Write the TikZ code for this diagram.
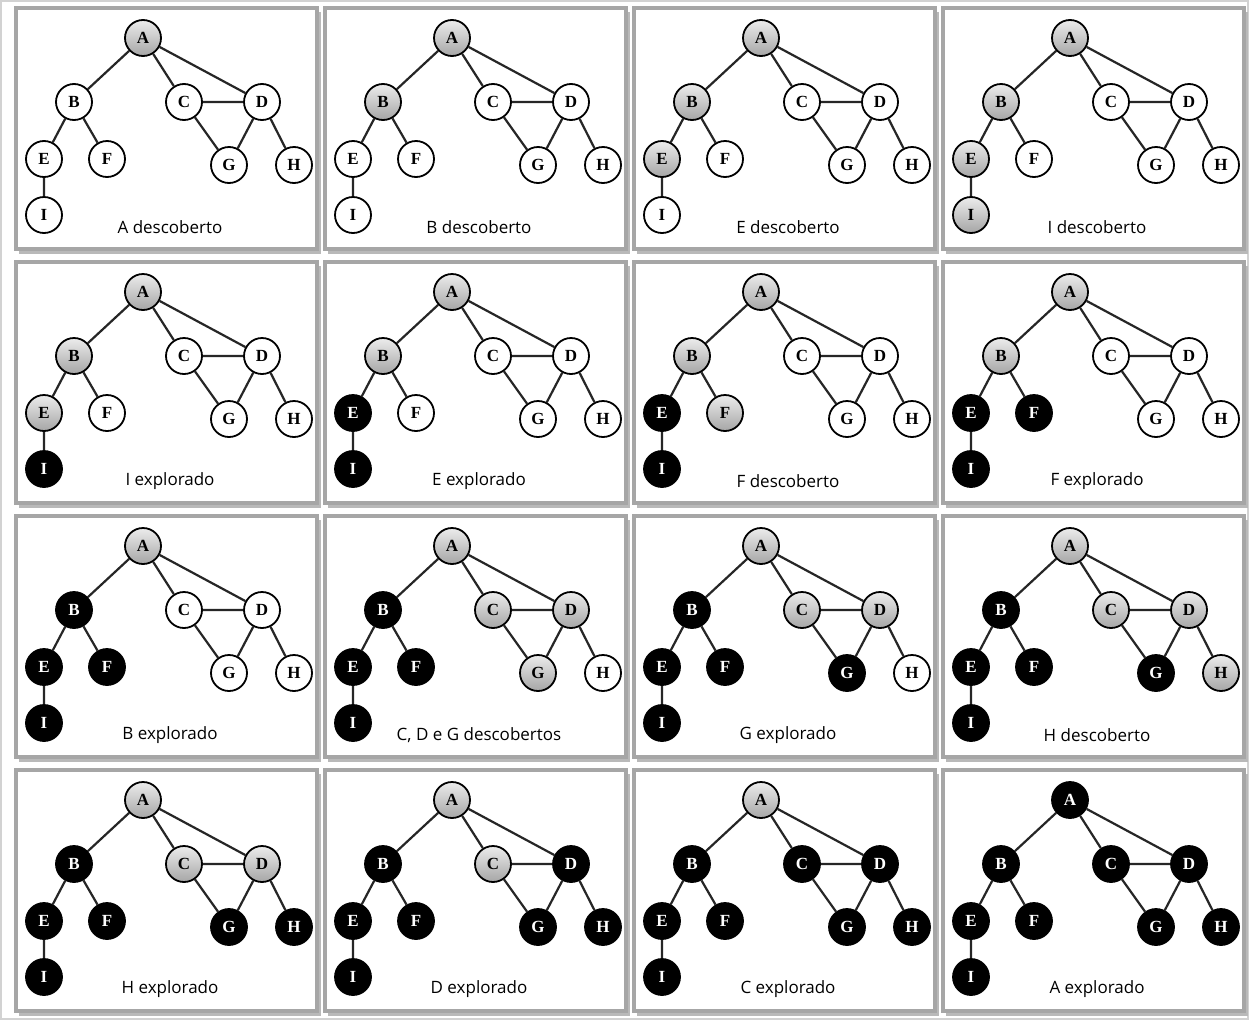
\documentclass[tikz,border=0pt]{standalone}
\usepackage{fontspec}
\setmainfont{Liberation Serif}
\newfontfamily\legfont{Open Sans}
\usetikzlibrary{calc}

\tikzset{
  vert/.style={circle, draw=black, line width=1.8pt, minimum size=36pt, inner sep=0pt,
    font=\fontsize{17}{17}\selectfont\bfseries, fill=white},
  novo/.style={vert},
  visto/.style={vert, top color=gray!15, bottom color=gray!70},
  feito/.style={vert, fill=black, text=white},
  aresta/.style={line width=2.2pt, draw=black!85},
  painel/.style={draw=gray!70, line width=3.5pt, fill=white},
  sombra/.style={fill=gray!55},
  legenda/.style={font=\legfont\fontsize{17}{17}\selectfont},
  nA/.style={novo}, nB/.style={novo}, nC/.style={novo},
  nD/.style={novo}, nE/.style={novo}, nF/.style={novo},
  nG/.style={novo}, nH/.style={novo}, nI/.style={novo}
}

% one panel: frame, graph and caption
\newcommand{\grafo}[1]{%
  \fill[sombra] (3,4) rectangle (305,246);
  \draw[painel] (0,0) rectangle (301,241);
  \node[nA] (A) at (127,30) {A};
  \node[nB] (B) at (58,94) {B};
  \node[nC] (C) at (168,94) {C};
  \node[nD] (D) at (246,94) {D};
  \node[nE] (E) at (28,151) {E};
  \node[nF] (F) at (91,151) {F};
  \node[nG] (G) at (213,157) {G};
  \node[nH] (H) at (278,157) {H};
  \node[nI] (I) at (28,207) {I};
  \draw[aresta] (A) -- (B) (A) -- (C) (A) -- (D) (B) -- (E) (B) -- (F) (E) -- (I)
    (C) -- (D) (C) -- (G) (D) -- (G) (D) -- (H);
  \node[legenda] (leg) at (154,219) {#1};
}

\begin{document}
\begin{tikzpicture}[x=1pt,y=-1pt]
  \useasboundingbox (0,0) rectangle (1249,1020);
  \draw[gray!35, line width=2pt] (1,1) rectangle (1248,1019);
  % row 1
  \begin{scope}[shift={(16,8)}, nA/.style=visto]
    \grafo{A descoberto}
  \end{scope}
  \begin{scope}[shift={(325,8)}, nA/.style=visto, nB/.style=visto]
    \grafo{B descoberto}
  \end{scope}
  \begin{scope}[shift={(634,8)}, nA/.style=visto, nB/.style=visto, nE/.style=visto]
    \grafo{E descoberto}
  \end{scope}
  \begin{scope}[shift={(943,8)}, nA/.style=visto, nB/.style=visto, nE/.style=visto, nI/.style=visto]
    \grafo{I descoberto}
  \end{scope}
  % row 2
  \begin{scope}[shift={(16,262)}, nA/.style=visto, nB/.style=visto, nE/.style=visto, nI/.style=feito]
    \grafo{I explorado}
  \end{scope}
  \begin{scope}[shift={(325,262)}, nA/.style=visto, nB/.style=visto, nE/.style=feito, nI/.style=feito]
    \grafo{E explorado}
  \end{scope}
  \begin{scope}[shift={(634,262)}, nA/.style=visto, nB/.style=visto, nF/.style=visto,
      nE/.style=feito, nI/.style=feito]
    \grafo{F descoberto}
  \end{scope}
  \begin{scope}[shift={(943,262)}, nA/.style=visto, nB/.style=visto, nF/.style=feito,
      nE/.style=feito, nI/.style=feito]
    \grafo{F explorado}
  \end{scope}
  % row 3
  \begin{scope}[shift={(16,516)}, nA/.style=visto, nB/.style=feito, nF/.style=feito,
      nE/.style=feito, nI/.style=feito]
    \grafo{B explorado}
  \end{scope}
  \begin{scope}[shift={(325,516)}, nA/.style=visto, nC/.style=visto, nD/.style=visto, nG/.style=visto,
      nB/.style=feito, nF/.style=feito, nE/.style=feito, nI/.style=feito]
    \grafo{C, D e G descobertos}
  \end{scope}
  \begin{scope}[shift={(634,516)}, nA/.style=visto, nC/.style=visto, nD/.style=visto, nG/.style=feito,
      nB/.style=feito, nF/.style=feito, nE/.style=feito, nI/.style=feito]
    \grafo{G explorado}
  \end{scope}
  \begin{scope}[shift={(943,516)}, nA/.style=visto, nC/.style=visto, nD/.style=visto, nH/.style=visto,
      nG/.style=feito, nB/.style=feito, nF/.style=feito, nE/.style=feito, nI/.style=feito]
    \grafo{H descoberto}
  \end{scope}
  % row 4
  \begin{scope}[shift={(16,770)}, nA/.style=visto, nC/.style=visto, nD/.style=visto, nH/.style=feito,
      nG/.style=feito, nB/.style=feito, nF/.style=feito, nE/.style=feito, nI/.style=feito]
    \grafo{H explorado}
  \end{scope}
  \begin{scope}[shift={(325,770)}, nA/.style=visto, nC/.style=visto, nD/.style=feito, nH/.style=feito,
      nG/.style=feito, nB/.style=feito, nF/.style=feito, nE/.style=feito, nI/.style=feito]
    \grafo{D explorado}
  \end{scope}
  \begin{scope}[shift={(634,770)}, nA/.style=visto, nC/.style=feito, nD/.style=feito, nH/.style=feito,
      nG/.style=feito, nB/.style=feito, nF/.style=feito, nE/.style=feito, nI/.style=feito]
    \grafo{C explorado}
  \end{scope}
  \begin{scope}[shift={(943,770)}, nA/.style=feito, nC/.style=feito, nD/.style=feito, nH/.style=feito,
      nG/.style=feito, nB/.style=feito, nF/.style=feito, nE/.style=feito, nI/.style=feito]
    \grafo{A explorado}
  \end{scope}
\end{tikzpicture}
\end{document}
